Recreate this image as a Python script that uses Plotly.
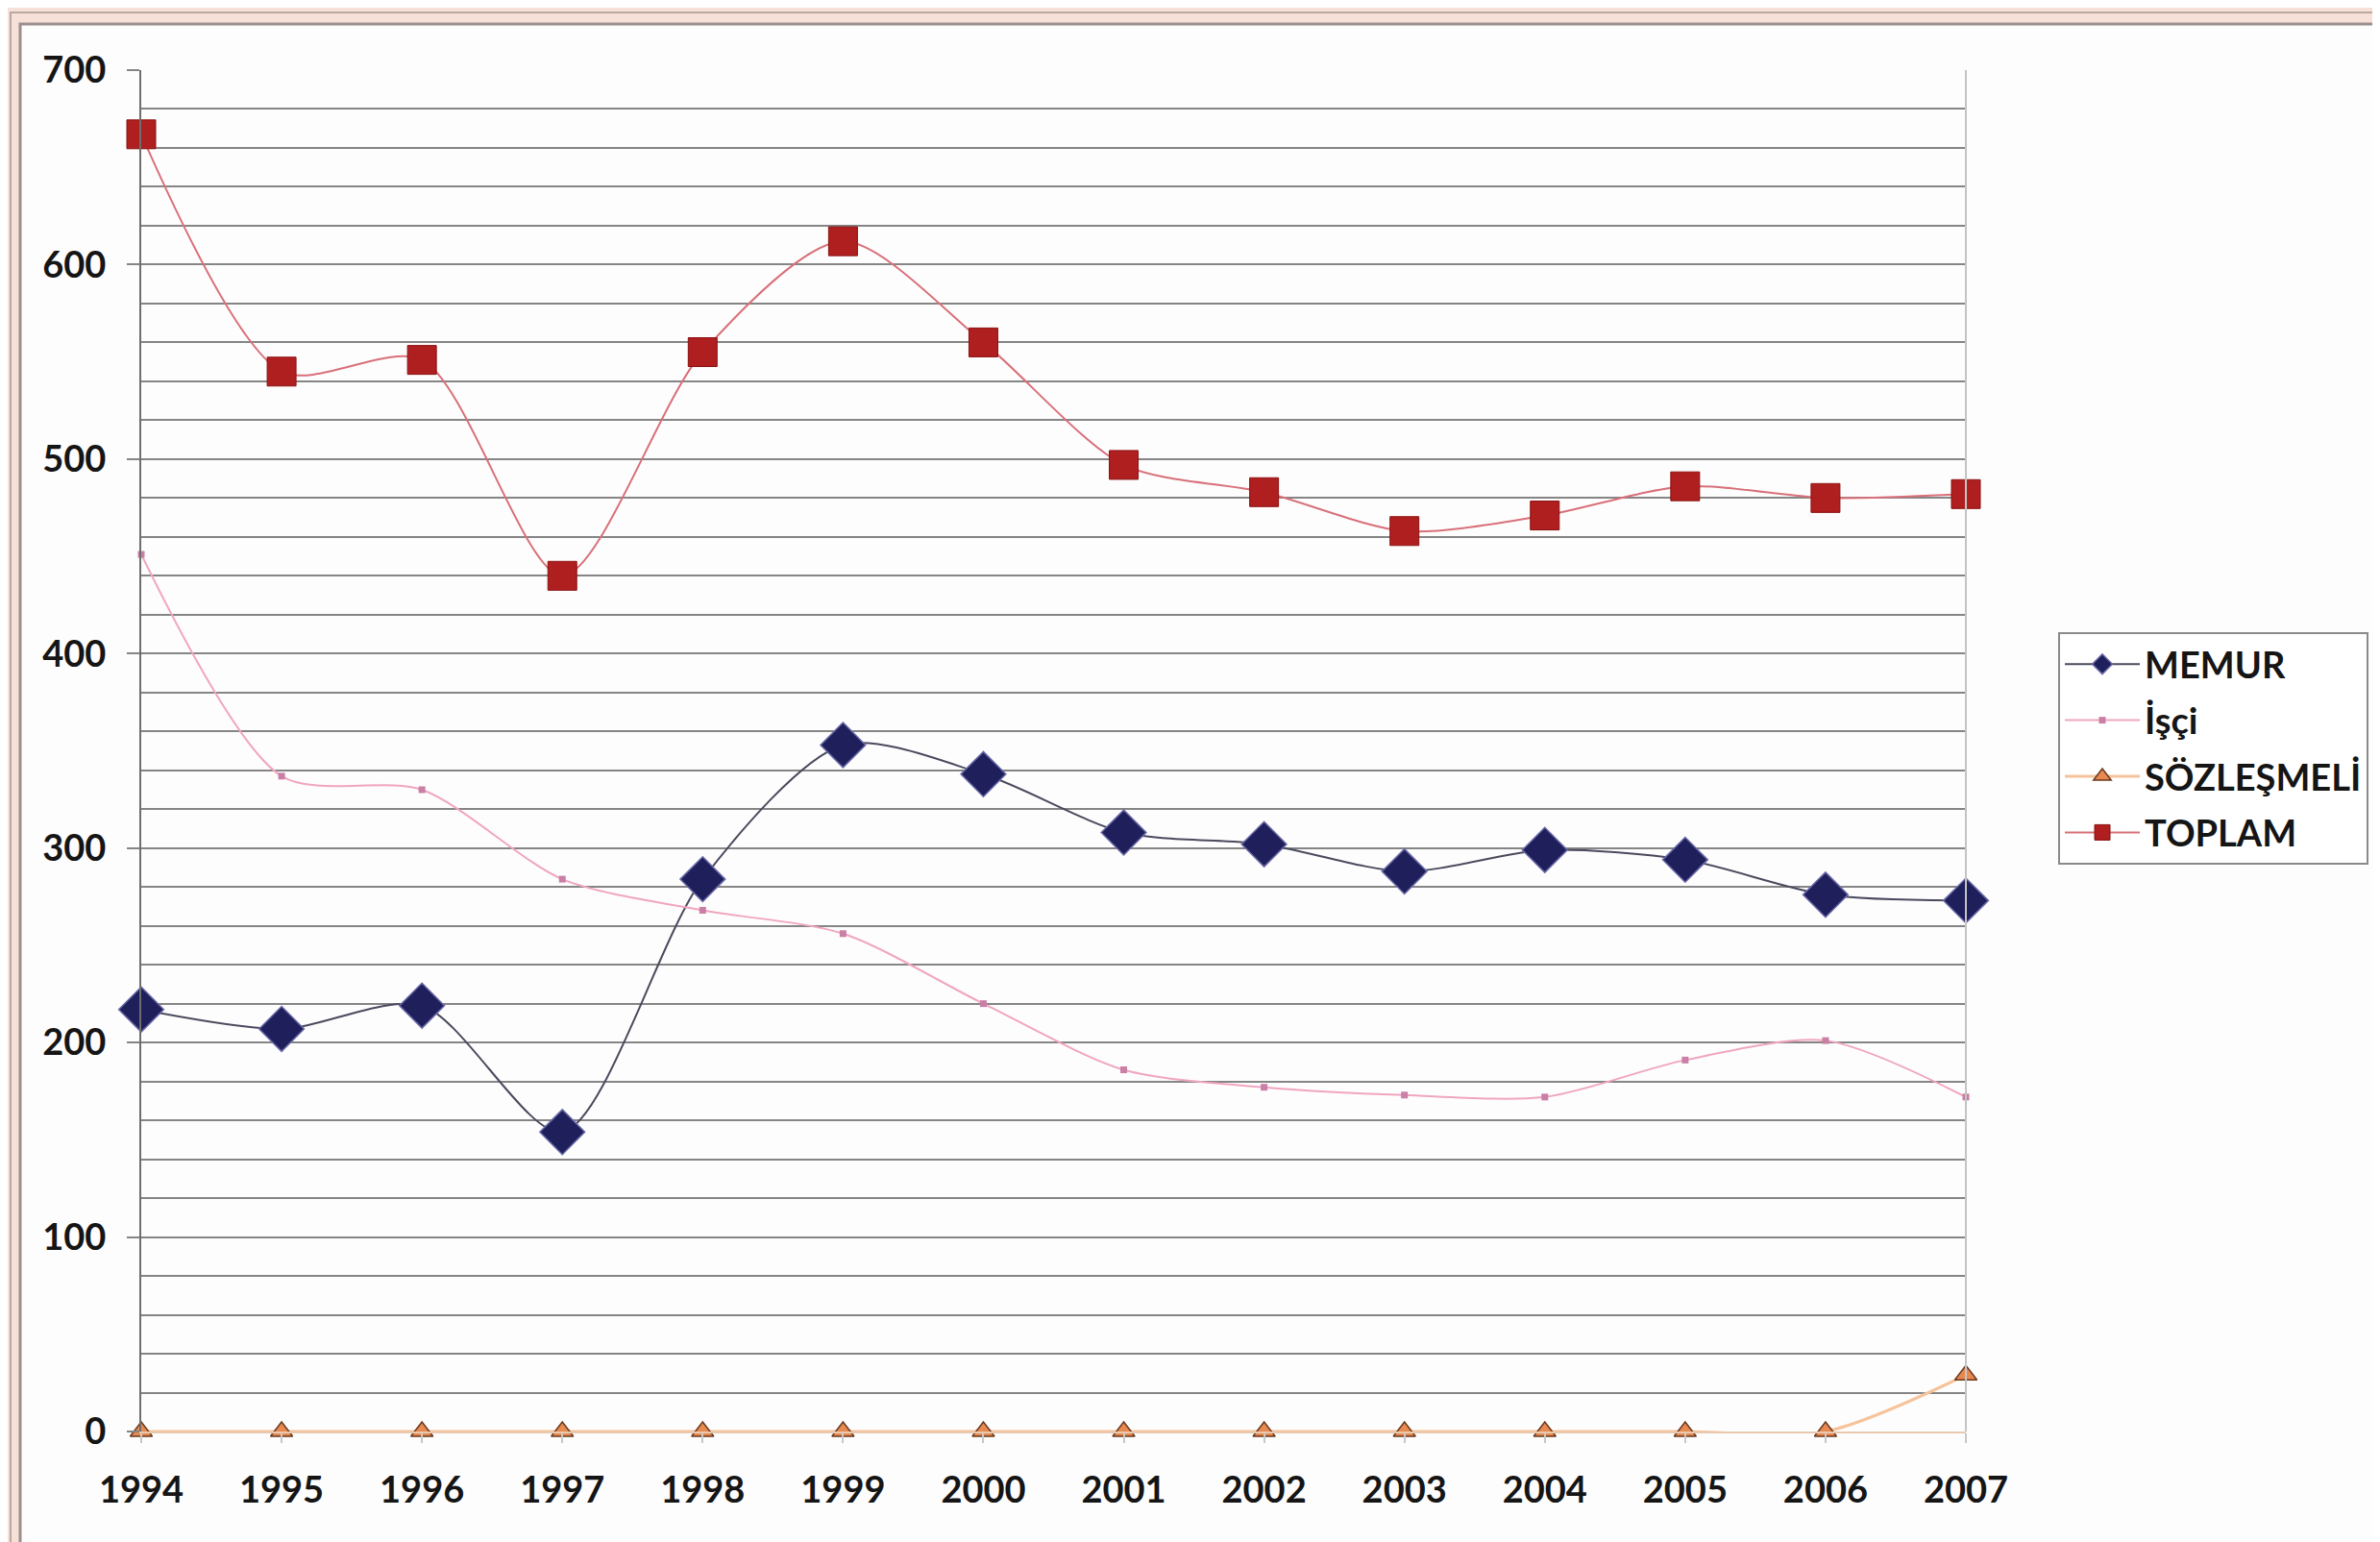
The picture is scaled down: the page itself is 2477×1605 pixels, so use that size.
import plotly.graph_objects as go

years = [1994, 1995, 1996, 1997, 1998, 1999, 2000, 2001, 2002, 2003, 2004, 2005, 2006, 2007]
memur = [217, 207, 219, 154, 284, 353, 338, 308, 302, 288, 299, 294, 276, 273]
isci = [451, 337, 330, 284, 268, 256, 220, 186, 177, 173, 172, 191, 201, 172]
sozlesmeli = [0, 0, 0, 0, 0, 0, 0, 0, 0, 0, 0, 0, 0, 29]
toplam = [667, 545, 551, 440, 555, 612, 560, 497, 483, 463, 471, 486, 480, 482]
y_ticks = [0, 100, 200, 300, 400, 500, 600, 700]

W, H = 2477, 1605
L, R, T, B = 139, 2038, 65, 1482


def px(x):
    return (x - L) / (R - L)


def py(y):
    return (B - y) / (B - T)


FONT = "Lato"

fig = go.Figure()

fig.add_trace(go.Scatter(
    x=years, y=memur, name="MEMUR", mode="lines+markers", legendgroup="a",
    line=dict(color="#4a4a5e", width=2, shape="spline", smoothing=0.8),
    marker=dict(symbol="diamond", size=36, color="#1f1f5c",
                line=dict(color="#6a6aa8", width=1.5)),
    cliponaxis=False,
))
fig.add_trace(go.Scatter(
    x=years, y=isci, name="İşçi", mode="lines+markers", legendgroup="b",
    line=dict(color="#f0a6bf", width=2, shape="spline", smoothing=0.8),
    marker=dict(symbol="square", size=7, color="#c97fa6"),
    cliponaxis=False,
))
fig.add_trace(go.Scatter(
    x=years, y=sozlesmeli, name="SÖZLEŞMELİ", mode="lines+markers", legendgroup="c",
    line=dict(color="#f6c39a", width=3, shape="spline", smoothing=0.8),
    marker=dict(symbol="triangle-up", size=20, color="#e8894f",
                line=dict(color="#6a3a20", width=1.5)),
    cliponaxis=False,
))
fig.add_trace(go.Scatter(
    x=years, y=toplam, name="TOPLAM", mode="lines+markers", legendgroup="d",
    line=dict(color="#d8707a", width=2, shape="spline", smoothing=0.8),
    marker=dict(symbol="square", size=30, color="#b01f1f",
                line=dict(color="#8a1010", width=1)),
    cliponaxis=False,
))

shapes = [
    # inner white frame with gray border
    dict(type="rect", xref="paper", yref="paper", layer="below",
         x0=px(13), x1=px(2463), y0=py(1599), y1=py(17),
         fillcolor="#fefdfd", line=dict(color="#9a8f8c", width=3)),
    # outer thin line
    dict(type="rect", xref="paper", yref="paper", layer="below",
         x0=px(3), x1=px(2474), y0=py(1603), y1=py(5),
         fillcolor="rgba(0,0,0,0)", line=dict(color="#b8a8a2", width=2)),
    # right edge of plot area
    dict(type="line", xref="paper", yref="paper", layer="above",
         x0=1, x1=1, y0=0, y1=1, line=dict(color="#c4c4c4", width=2)),
]

fig.update_layout(
    width=W, height=H,
    margin=dict(l=L, r=W - R, t=T, b=H - B, pad=0),
    paper_bgcolor="#f7e0d7",
    plot_bgcolor="#ffffff",
    font=dict(family=FONT, color="#151515"),
    shapes=shapes,
    showlegend=True,
    legend=dict(
        x=px(2134), y=py(650), xanchor="left", yanchor="top",
        bgcolor="#ffffff", bordercolor="#8a8a8a", borderwidth=2,
        font=dict(family=FONT, size=38, color="#151515", weight="bold"),
        traceorder="grouped", tracegroupgap=6, itemwidth=78,
    ),
    xaxis=dict(
        range=[1994, 2007], tickvals=years, ticktext=[str(y) for y in years],
        showgrid=False, zeroline=False,
        showline=True, linecolor="#e8c9b0", linewidth=2,
        ticks="outside", ticklen=10, tickcolor="#c8c8c8", tickwidth=2,
        ticklabelstandoff=16,
        tickfont=dict(family=FONT, size=38, color="#151515", weight="bold"),
    ),
    yaxis=dict(
        range=[0, 700], tickvals=y_ticks,
        showgrid=True, gridcolor="#858585", gridwidth=2,
        minor=dict(dtick=20, showgrid=True, gridcolor="#858585", gridwidth=2, ticks=""),
        zeroline=False,
        showline=True, linecolor="#6e6e6e", linewidth=2,
        ticks="outside", ticklen=13, tickcolor="#858585", tickwidth=2,
        ticklabelstandoff=14,
        tickfont=dict(family=FONT, size=38, color="#151515", weight="bold"),
    ),
)

fig.write_html("out.html")
